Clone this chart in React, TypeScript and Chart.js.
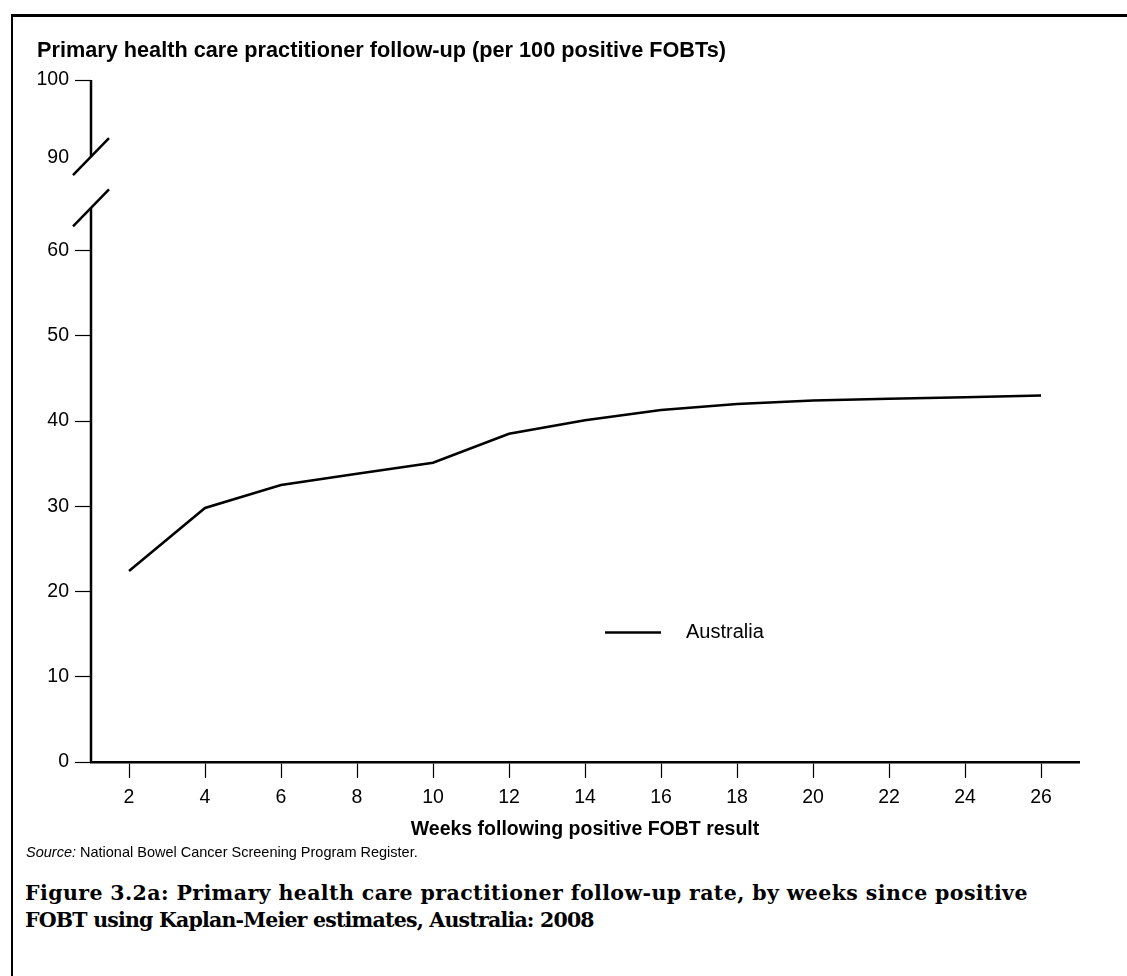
import React, { useEffect, useRef } from "react";
import { Chart, registerables } from "chart.js";

Chart.register(...registerables);

// ---------- data ----------
const weeks = [2, 4, 6, 8, 10, 12, 14, 16, 18, 20, 22, 24, 26];
const australia = [22.4, 29.8, 32.5, 33.8, 35.1, 38.5, 40.1, 41.3, 42.0, 42.4, 42.6, 42.8, 43.0];
const seriesLabel = "Australia";

const xTickValues = [2, 4, 6, 8, 10, 12, 14, 16, 18, 20, 22, 24, 26];
// the y axis has a break: the slot after 60 is labelled 90, the next one 100
const yTickValues = [0, 10, 20, 30, 40, 50, 60, 70, 80];
const yTickLabels = ["0", "10", "20", "30", "40", "50", "60", "90", "100"];
const breakSlotValue = 70;
const breakUpper = 71;
const breakLower = 65;

const yTitle = "Primary health care practitioner follow-up (per 100 positive FOBTs)";
const xTitle = "Weeks following positive FOBT result";
const sourceLabel = "Source:";
const sourceText = " National Bowel Cancer Screening Program Register.";
const captionLine1 = "Figure 3.2a: Primary health care practitioner follow-up rate, by weeks since positive";
const captionLine2 = "FOBT using Kaplan-Meier estimates, Australia: 2008";

const SANS = "'Liberation Sans', Arial, sans-serif";

const decorPlugin = {
  id: "decor",
  afterDraw(chart: any) {
    const ctx = chart.ctx;
    const ys = chart.scales.y;
    const area = chart.chartArea;
    const ax = area.left;
    ctx.save();
    ctx.strokeStyle = "#000";
    ctx.lineWidth = 2.5;
    ctx.lineCap = "butt";
    // y axis line in two pieces
    ctx.beginPath();
    ctx.moveTo(ax, ys.getPixelForValue(80));
    ctx.lineTo(ax, ys.getPixelForValue(breakUpper));
    ctx.moveTo(ax, ys.getPixelForValue(breakLower));
    ctx.lineTo(ax, ys.getPixelForValue(0) + 1);
    ctx.stroke();
    // break slashes
    [breakUpper, breakLower].forEach((v) => {
      const py = ys.getPixelForValue(v);
      ctx.beginPath();
      ctx.moveTo(ax - 18, py + 18.5);
      ctx.lineTo(ax + 18, py - 18.5);
      ctx.stroke();
    });
    // label of the slot inside the break
    const idx = yTickValues.indexOf(breakSlotValue);
    ctx.fillStyle = "#000";
    ctx.font = `19.5px ${SANS}`;
    ctx.textAlign = "right";
    ctx.textBaseline = "middle";
    ctx.fillText(yTickLabels[idx], ax - 22, ys.getPixelForValue(breakSlotValue + 0.9));
    // axis title on top
    ctx.font = `bold 21.7px ${SANS}`;
    ctx.textAlign = "left";
    ctx.textBaseline = "alphabetic";
    ctx.fillText(yTitle, 37, 57);
    // legend
    const lx = area.left + 514;
    const ly = ys.getPixelForValue(15.2);
    ctx.lineWidth = 2.5;
    ctx.beginPath();
    ctx.moveTo(lx, ly);
    ctx.lineTo(lx + 56, ly);
    ctx.stroke();
    ctx.font = `20px ${SANS}`;
    ctx.textBaseline = "middle";
    ctx.fillText(seriesLabel, lx + 81, ly);
    ctx.restore();
  },
};

export default function App() {
  const ref = useRef<HTMLCanvasElement | null>(null);

  useEffect(() => {
    if (!ref.current) return;
    const chart = new Chart(ref.current, {
      type: "line",
      data: {
        datasets: [
          {
            label: seriesLabel,
            data: weeks.map((w, i) => ({ x: w, y: australia[i] })),
            borderColor: "#000",
            borderWidth: 2.5,
            pointRadius: 0,
            tension: 0,
            fill: false,
          },
        ],
      },
      options: {
        responsive: false,
        animation: false,
        layout: { padding: { left: 0, top: 80, right: 48, bottom: 0 } },
        plugins: {
          legend: { display: false },
          tooltip: { enabled: false },
          title: { display: false },
        },
        scales: {
          x: {
            type: "linear",
            min: 1,
            max: 27,
            afterBuildTicks: (s: any) => {
              s.ticks = xTickValues.map((v) => ({ value: v }));
            },
            afterFit: (s: any) => {
              s.height = 83;
            },
            ticks: {
              color: "#000",
              font: { family: SANS, size: 19.5 },
              padding: 8,
              maxRotation: 0,
              autoSkip: false,
              callback: (v: any) => String(v),
            },
            grid: {
              drawOnChartArea: false,
              drawTicks: true,
              tickLength: 16,
              tickColor: "#000",
              tickWidth: 1.2,
              color: "#000",
            },
            border: { display: true, color: "#000", width: 2.5 },
            title: {
              display: true,
              text: xTitle,
              color: "#000",
              font: { family: SANS, size: 19.5, weight: "bold" },
              padding: { top: 0, bottom: 4 },
            },
          },
          y: {
            type: "linear",
            min: 0,
            max: 80,
            afterBuildTicks: (s: any) => {
              s.ticks = yTickValues.map((v) => ({ value: v }));
            },
            afterFit: (s: any) => {
              s.width = 91;
            },
            ticks: {
              color: "#000",
              font: { family: SANS, size: 19.5 },
              padding: 6,
              autoSkip: false,
              callback: (v: any) => {
                if (v === breakSlotValue) return "";
                const i = yTickValues.indexOf(v);
                return i >= 0 ? yTickLabels[i] : "";
              },
            },
            grid: {
              drawOnChartArea: false,
              drawTicks: true,
              tickLength: 16,
              tickWidth: 1.2,
              tickColor: (c: any) => (c.tick && c.tick.value === breakSlotValue ? "rgba(0,0,0,0)" : "#000"),
              color: "#000",
            },
            border: { display: false },
          },
        },
      },
      plugins: [decorPlugin],
    });
    return () => chart.destroy();
  }, []);

  return (
    <div
      style={{
        position: "fixed",
        left: 0,
        top: 0,
        width: 1127,
        height: 976,
        background: "#fff",
        overflow: "hidden",
      }}
    >
      <div
        style={{
          position: "absolute",
          left: 11,
          top: 14,
          width: 2000,
          height: 2000,
          borderLeft: "2px solid #000",
          borderTop: "3px solid #000",
        }}
      />
      <canvas ref={ref} width={1127} height={845} style={{ position: "absolute", left: 0, top: 0 }} />
      <div
        style={{
          position: "absolute",
          left: 26,
          top: 843,
          fontFamily: SANS,
          fontSize: 14.5,
          lineHeight: "18px",
          color: "#000",
          whiteSpace: "nowrap",
        }}
      >
        <i>{sourceLabel}</i>
        {sourceText}
      </div>
      <div
        style={{
          position: "absolute",
          left: 25,
          top: 880,
          fontFamily: "'DejaVu Serif', serif",
          fontWeight: "bold",
          fontSize: 20.5,
          lineHeight: "27px",
          color: "#000",
          whiteSpace: "nowrap",
        }}
      >
        <div style={{ letterSpacing: "0.4px" }}>{captionLine1}</div>
        <div style={{ letterSpacing: "-0.8px" }}>{captionLine2}</div>
      </div>
    </div>
  );
}
